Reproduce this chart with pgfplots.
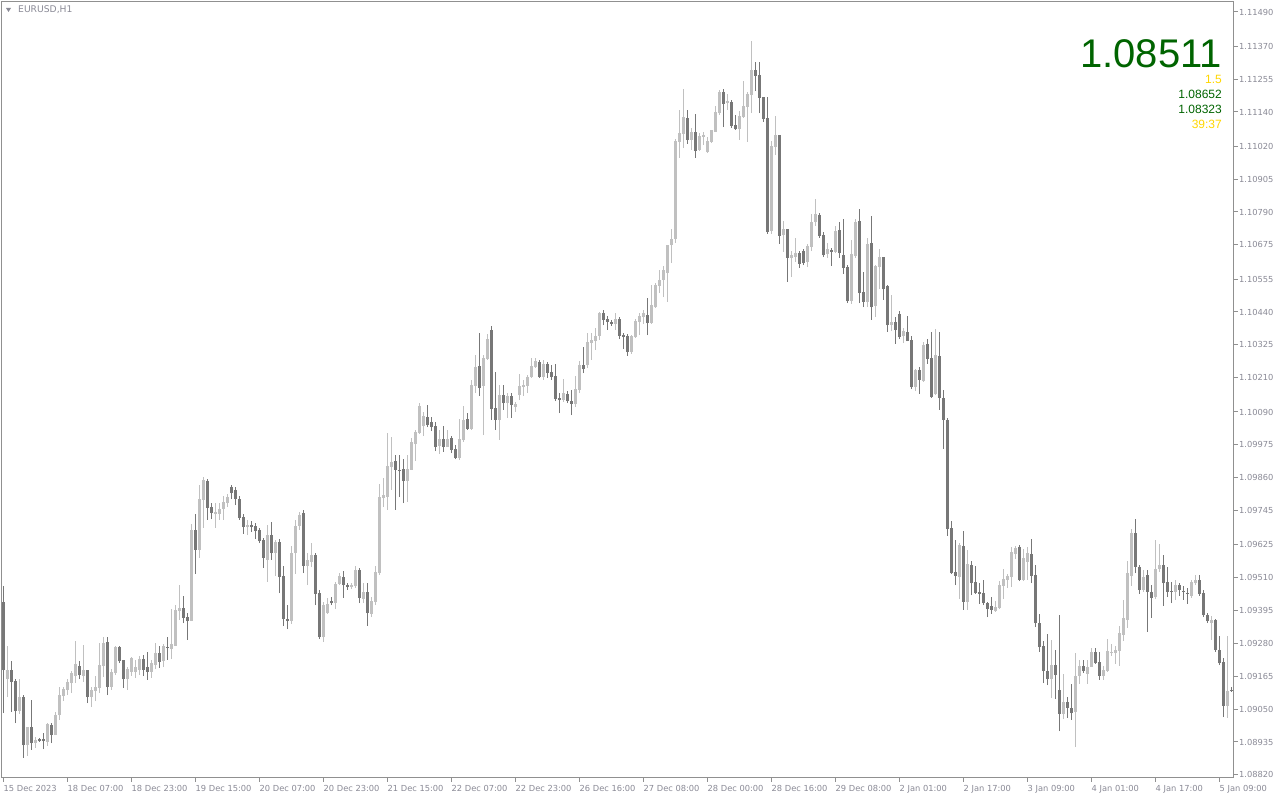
\documentclass[border=0pt]{standalone}
\usepackage{fontspec}
\setmainfont{DejaVu Sans}
\newfontfamily\arialfont{Liberation Sans}
\usepackage{pgfplots}
\usepackage{pgfplotstable}
\pgfplotsset{compat=1.18}
\definecolor{bull}{HTML}{C0C0C0}
\definecolor{bear}{HTML}{777777}
\definecolor{framec}{HTML}{909090}
\definecolor{lbl}{HTML}{8A8A96}
\definecolor{dgreen}{HTML}{006400}
\definecolor{goldc}{HTML}{FFD700}

\pgfplotstableread{
x o h l c
0 1.09425 1.09481 1.09036 1.09187
1 1.09155 1.09271 1.09092 1.09187
2 1.09187 1.09218 1.09040 1.09145
3 1.09148 1.09155 1.09001 1.09043
4 1.09043 1.09155 1.09033 1.09092
5 1.09092 1.09099 1.08879 1.08924
6 1.08924 1.08987 1.08886 1.08987
7 1.08987 1.09082 1.08907 1.08931
8 1.08931 1.08952 1.08914 1.08942
9 1.08945 1.08949 1.08935 1.08938
10 1.08945 1.08966 1.08910 1.08938
11 1.08935 1.09001 1.08921 1.08998
12 1.08994 1.09001 1.08931 1.08959
13 1.08959 1.09040 1.08959 1.09029
14 1.09029 1.09127 1.09012 1.09099
15 1.09096 1.09127 1.09078 1.09120
16 1.09117 1.09155 1.09099 1.09145
17 1.09141 1.09183 1.09106 1.09176
18 1.09166 1.09288 1.09141 1.09208
19 1.09201 1.09218 1.09155 1.09169
20 1.09166 1.09274 1.09145 1.09187
21 1.09187 1.09187 1.09071 1.09092
22 1.09092 1.09127 1.09057 1.09117
23 1.09113 1.09166 1.09078 1.09127
24 1.09124 1.09281 1.09106 1.09204
25 1.09201 1.09302 1.09162 1.09281
26 1.09285 1.09302 1.09099 1.09127
27 1.09127 1.09190 1.09117 1.09180
28 1.09176 1.09271 1.09169 1.09267
29 1.09267 1.09271 1.09211 1.09218
30 1.09222 1.09222 1.09124 1.09155
31 1.09155 1.09197 1.09117 1.09190
32 1.09180 1.09232 1.09166 1.09229
33 1.09180 1.09222 1.09159 1.09197
34 1.09187 1.09236 1.09169 1.09225
35 1.09225 1.09239 1.09166 1.09187
36 1.09197 1.09250 1.09152 1.09180
37 1.09180 1.09222 1.09159 1.09211
38 1.09204 1.09281 1.09190 1.09246
39 1.09246 1.09271 1.09194 1.09215
40 1.09218 1.09278 1.09197 1.09271
41 1.09267 1.09302 1.09222 1.09264
42 1.09260 1.09400 1.09225 1.09278
43 1.09271 1.09414 1.09271 1.09397
44 1.09393 1.09484 1.09362 1.09404
45 1.09404 1.09446 1.09351 1.09369
46 1.09372 1.09386 1.09292 1.09358
47 1.09358 1.09698 1.09358 1.09677
48 1.09677 1.09733 1.09523 1.09607
49 1.09607 1.09834 1.09579 1.09785
50 1.09782 1.09862 1.09684 1.09852
51 1.09848 1.09855 1.09712 1.09754
52 1.09757 1.09771 1.09715 1.09736
53 1.09733 1.09771 1.09684 1.09740
54 1.09733 1.09771 1.09712 1.09750
55 1.09750 1.09796 1.09712 1.09775
56 1.09771 1.09803 1.09757 1.09792
57 1.09827 1.09834 1.09785 1.09806
58 1.09817 1.09827 1.09764 1.09785
59 1.09785 1.09796 1.09712 1.09719
60 1.09722 1.09733 1.09663 1.09687
61 1.09687 1.09712 1.09659 1.09694
62 1.09694 1.09708 1.09670 1.09687
63 1.09691 1.09701 1.09645 1.09673
64 1.09677 1.09684 1.09631 1.09638
65 1.09642 1.09649 1.09544 1.09579
66 1.09572 1.09694 1.09495 1.09659
67 1.09659 1.09705 1.09572 1.09596
68 1.09596 1.09642 1.09516 1.09635
69 1.09635 1.09645 1.09456 1.09512
70 1.09516 1.09551 1.09341 1.09365
71 1.09365 1.09414 1.09330 1.09358
72 1.09358 1.09621 1.09348 1.09596
73 1.09596 1.09712 1.09523 1.09691
74 1.09691 1.09740 1.09677 1.09729
75 1.09736 1.09747 1.09526 1.09551
76 1.09551 1.09596 1.09484 1.09572
77 1.09565 1.09631 1.09547 1.09589
78 1.09589 1.09596 1.09414 1.09453
79 1.09456 1.09467 1.09295 1.09302
80 1.09302 1.09425 1.09285 1.09414
81 1.09386 1.09439 1.09383 1.09418
82 1.09428 1.09442 1.09414 1.09421
83 1.09421 1.09495 1.09400 1.09488
84 1.09488 1.09526 1.09484 1.09516
85 1.09512 1.09533 1.09439 1.09484
86 1.09484 1.09491 1.09467 1.09477
87 1.09477 1.09491 1.09470 1.09484
88 1.09481 1.09551 1.09474 1.09537
89 1.09537 1.09544 1.09421 1.09439
90 1.09435 1.09491 1.09421 1.09460
91 1.09460 1.09491 1.09341 1.09386
92 1.09383 1.09442 1.09372 1.09428
93 1.09425 1.09551 1.09414 1.09530
94 1.09526 1.09838 1.09519 1.09792
95 1.09789 1.09859 1.09757 1.09799
96 1.09792 1.10016 1.09747 1.09901
97 1.09897 1.10002 1.09817 1.09915
98 1.09918 1.09939 1.09747 1.09887
99 1.09887 1.09939 1.09792 1.09883
100 1.09890 1.09925 1.09771 1.09848
101 1.09848 1.09939 1.09775 1.09890
102 1.09887 1.09999 1.09887 1.09985
103 1.09978 1.10027 1.09918 1.10020
104 1.10016 1.10121 1.10013 1.10111
105 1.10041 1.10090 1.10006 1.10076
106 1.10072 1.10114 1.10037 1.10044
107 1.10055 1.10072 1.10023 1.10037
108 1.10041 1.10055 1.09953 1.09967
109 1.09971 1.10027 1.09943 1.09995
110 1.09995 1.10041 1.09950 1.09967
111 1.09967 1.10027 1.09967 1.09995
112 1.09999 1.10006 1.09946 1.09957
113 1.09960 1.09974 1.09925 1.09929
114 1.09929 1.10065 1.09922 1.09995
115 1.09992 1.10111 1.09985 1.10062
116 1.10065 1.10086 1.10027 1.10030
117 1.10030 1.10202 1.10027 1.10184
118 1.10181 1.10289 1.10156 1.10247
119 1.10251 1.10366 1.10146 1.10174
120 1.10181 1.10289 1.10009 1.10279
121 1.10275 1.10363 1.10272 1.10345
122 1.10377 1.10391 1.10062 1.10100
123 1.10104 1.10230 1.10027 1.10062
124 1.10062 1.10184 1.09992 1.10149
125 1.10149 1.10184 1.10097 1.10121
126 1.10121 1.10156 1.10069 1.10146
127 1.10146 1.10156 1.10069 1.10114
128 1.10107 1.10125 1.10090 1.10118
129 1.10149 1.10223 1.10132 1.10181
130 1.10177 1.10202 1.10146 1.10184
131 1.10181 1.10219 1.10156 1.10212
132 1.10212 1.10279 1.10209 1.10251
133 1.10247 1.10279 1.10244 1.10268
134 1.10265 1.10272 1.10209 1.10212
135 1.10212 1.10272 1.10202 1.10258
136 1.10258 1.10265 1.10209 1.10226
137 1.10230 1.10254 1.10202 1.10212
138 1.10216 1.10258 1.10128 1.10135
139 1.10139 1.10156 1.10086 1.10132
140 1.10132 1.10205 1.10125 1.10156
141 1.10153 1.10163 1.10121 1.10128
142 1.10128 1.10167 1.10079 1.10118
143 1.10118 1.10216 1.10107 1.10170
144 1.10167 1.10268 1.10156 1.10254
145 1.10254 1.10317 1.10226 1.10240
146 1.10254 1.10366 1.10244 1.10335
147 1.10331 1.10366 1.10272 1.10342
148 1.10338 1.10384 1.10307 1.10356
149 1.10356 1.10440 1.10342 1.10436
150 1.10436 1.10447 1.10394 1.10412
151 1.10415 1.10426 1.10377 1.10405
152 1.10405 1.10412 1.10391 1.10398
153 1.10398 1.10436 1.10377 1.10415
154 1.10415 1.10422 1.10345 1.10356
155 1.10359 1.10366 1.10310 1.10352
156 1.10356 1.10363 1.10286 1.10300
157 1.10300 1.10359 1.10293 1.10356
158 1.10352 1.10415 1.10349 1.10408
159 1.10405 1.10436 1.10359 1.10426
160 1.10422 1.10447 1.10398 1.10436
161 1.10429 1.10489 1.10359 1.10401
162 1.10401 1.10534 1.10398 1.10464
163 1.10457 1.10541 1.10454 1.10534
164 1.10531 1.10587 1.10506 1.10552
165 1.10552 1.10601 1.10492 1.10587
166 1.10576 1.10674 1.10475 1.10674
167 1.10674 1.10730 1.10611 1.10695
168 1.10695 1.11045 1.10681 1.11038
169 1.11035 1.11147 1.10979 1.11066
170 1.11063 1.11220 1.11014 1.11122
171 1.11119 1.11147 1.11028 1.11042
172 1.11042 1.11084 1.11007 1.11070
173 1.11070 1.11133 1.10979 1.11003
174 1.11007 1.11066 1.11003 1.11056
175 1.11052 1.11070 1.11024 1.11059
176 1.11000 1.11052 1.10996 1.11038
177 1.11035 1.11077 1.11031 1.11077
178 1.11070 1.11161 1.11070 1.11140
179 1.11136 1.11217 1.11129 1.11210
180 1.11210 1.11220 1.11087 1.11168
181 1.11171 1.11203 1.11147 1.11178
182 1.11175 1.11182 1.11084 1.11091
183 1.11094 1.11129 1.11077 1.11080
184 1.11080 1.11143 1.11042 1.11126
185 1.11122 1.11248 1.11119 1.11161
186 1.11157 1.11210 1.11035 1.11203
187 1.11199 1.11388 1.11136 1.11287
188 1.11287 1.11315 1.11213 1.11266
189 1.11269 1.11315 1.11136 1.11189
190 1.11192 1.11192 1.11105 1.11115
191 1.11119 1.11192 1.10713 1.10720
192 1.10723 1.11038 1.10713 1.11021
193 1.11017 1.11126 1.10989 1.11059
194 1.11059 1.11059 1.10678 1.10706
195 1.10709 1.10758 1.10650 1.10730
196 1.10730 1.10730 1.10545 1.10629
197 1.10629 1.10653 1.10562 1.10639
198 1.10632 1.10699 1.10615 1.10646
199 1.10646 1.10653 1.10594 1.10608
200 1.10653 1.10660 1.10604 1.10611
201 1.10615 1.10678 1.10597 1.10671
202 1.10667 1.10783 1.10653 1.10755
203 1.10755 1.10835 1.10741 1.10783
204 1.10779 1.10786 1.10699 1.10706
205 1.10709 1.10720 1.10632 1.10639
206 1.10643 1.10681 1.10629 1.10660
207 1.10657 1.10664 1.10601 1.10650
208 1.10650 1.10741 1.10646 1.10723
209 1.10727 1.10755 1.10629 1.10646
210 1.10639 1.10765 1.10573 1.10594
211 1.10597 1.10604 1.10471 1.10478
212 1.10478 1.10692 1.10468 1.10643
213 1.10636 1.10765 1.10629 1.10755
214 1.10758 1.10800 1.10471 1.10506
215 1.10510 1.10580 1.10457 1.10475
216 1.10475 1.10699 1.10457 1.10678
217 1.10681 1.10776 1.10412 1.10457
218 1.10461 1.10604 1.10422 1.10601
219 1.10597 1.10660 1.10520 1.10632
220 1.10632 1.10632 1.10482 1.10520
221 1.10531 1.10534 1.10370 1.10394
222 1.10394 1.10499 1.10373 1.10405
223 1.10405 1.10422 1.10328 1.10377
224 1.10433 1.10443 1.10345 1.10352
225 1.10356 1.10384 1.10331 1.10373
226 1.10370 1.10426 1.10338 1.10338
227 1.10342 1.10356 1.10170 1.10177
228 1.10177 1.10240 1.10163 1.10237
229 1.10237 1.10247 1.10153 1.10202
230 1.10198 1.10335 1.10195 1.10324
231 1.10328 1.10345 1.10258 1.10275
232 1.10279 1.10370 1.10139 1.10142
233 1.10153 1.10380 1.10149 1.10289
234 1.10286 1.10370 1.10097 1.10139
235 1.10139 1.10167 1.09960 1.10062
236 1.10062 1.10069 1.09656 1.09680
237 1.09684 1.09708 1.09523 1.09526
238 1.09530 1.09642 1.09484 1.09516
239 1.09512 1.09631 1.09435 1.09624
240 1.09621 1.09673 1.09397 1.09425
241 1.09425 1.09607 1.09397 1.09558
242 1.09554 1.09568 1.09449 1.09491
243 1.09495 1.09551 1.09453 1.09456
244 1.09460 1.09491 1.09418 1.09453
245 1.09456 1.09502 1.09414 1.09421
246 1.09421 1.09425 1.09372 1.09400
247 1.09411 1.09442 1.09383 1.09397
248 1.09393 1.09428 1.09390 1.09407
249 1.09404 1.09498 1.09400 1.09484
250 1.09481 1.09540 1.09435 1.09505
251 1.09502 1.09523 1.09474 1.09516
252 1.09512 1.09617 1.09477 1.09600
253 1.09593 1.09621 1.09575 1.09614
254 1.09617 1.09624 1.09498 1.09502
255 1.09502 1.09610 1.09498 1.09579
256 1.09565 1.09617 1.09502 1.09596
257 1.09593 1.09645 1.09491 1.09516
258 1.09519 1.09554 1.09337 1.09351
259 1.09351 1.09383 1.09250 1.09267
260 1.09271 1.09288 1.09141 1.09183
261 1.09183 1.09313 1.09134 1.09155
262 1.09155 1.09292 1.09089 1.09204
263 1.09204 1.09257 1.09085 1.09169
264 1.09117 1.09379 1.08973 1.09033
265 1.09033 1.09173 1.09015 1.09075
266 1.09075 1.09092 1.09019 1.09054
267 1.09054 1.09138 1.09012 1.09036
268 1.09040 1.09246 1.08917 1.09166
269 1.09166 1.09222 1.09138 1.09201
270 1.09201 1.09222 1.09176 1.09183
271 1.09173 1.09222 1.09138 1.09197
272 1.09197 1.09264 1.09197 1.09250
273 1.09250 1.09264 1.09208 1.09211
274 1.09215 1.09250 1.09152 1.09166
275 1.09166 1.09201 1.09152 1.09187
276 1.09183 1.09295 1.09180 1.09254
277 1.09246 1.09278 1.09236 1.09250
278 1.09246 1.09271 1.09208 1.09257
279 1.09254 1.09341 1.09201 1.09317
280 1.09310 1.09432 1.09288 1.09369
281 1.09362 1.09568 1.09334 1.09526
282 1.09516 1.09681 1.09481 1.09667
283 1.09667 1.09715 1.09526 1.09548
284 1.09548 1.09554 1.09453 1.09467
285 1.09467 1.09537 1.09460 1.09512
286 1.09519 1.09537 1.09320 1.09460
287 1.09460 1.09484 1.09369 1.09439
288 1.09442 1.09642 1.09435 1.09540
289 1.09540 1.09628 1.09530 1.09554
290 1.09554 1.09589 1.09411 1.09491
291 1.09495 1.09548 1.09442 1.09460
292 1.09463 1.09495 1.09421 1.09460
293 1.09460 1.09502 1.09432 1.09484
294 1.09484 1.09491 1.09446 1.09467
295 1.09463 1.09481 1.09432 1.09460
296 1.09456 1.09474 1.09418 1.09453
297 1.09446 1.09502 1.09439 1.09495
298 1.09491 1.09519 1.09484 1.09502
299 1.09502 1.09519 1.09446 1.09453
300 1.09456 1.09467 1.09372 1.09379
301 1.09379 1.09386 1.09351 1.09358
302 1.09351 1.09376 1.09292 1.09362
303 1.09362 1.09365 1.09250 1.09257
304 1.09257 1.09306 1.09204 1.09211
305 1.09215 1.09229 1.09022 1.09061
306 1.09061 1.09306 1.09019 1.09113
307 1.09117 1.09127 1.09110 1.09113
}\candles

\begin{document}
\begin{tikzpicture}
\useasboundingbox (0pt,0pt) rectangle (1280pt,800pt);
\fill[white] (0pt,0pt) rectangle (1280pt,800pt);
\begin{axis}[
  at={(2pt,22pt)}, anchor=south west, scale only axis,
  width=1232pt, height=776pt,
  xmin=-0.375, xmax=307.625, ymin=1.08809, ymax=1.11525,
  axis line style={draw=framec, line width=1pt},
  tick style={draw=framec, line width=1pt},
  tick align=outside, major tick length=4pt,
  xtick pos=bottom, ytick pos=right, yticklabel pos=right,
  xtick={0,16,...,304},
  xticklabels={15 Dec 2023,18 Dec 07:00,18 Dec 23:00,19 Dec 15:00,20 Dec 07:00,20 Dec 23:00,21 Dec 15:00,22 Dec 07:00,22 Dec 23:00,26 Dec 16:00,27 Dec 08:00,28 Dec 00:00,28 Dec 16:00,29 Dec 08:00,2 Jan 01:00,2 Jan 17:00,3 Jan 09:00,4 Jan 01:00,4 Jan 17:00,5 Jan 09:00},
  ytick={1.0882,1.08935,1.0905,1.09165,1.0928,1.09395,1.0951,1.09625,1.09745,1.0986,1.09975,1.1009,1.1021,1.10325,1.1044,1.10555,1.10675,1.1079,1.10905,1.1102,1.1114,1.11255,1.1137,1.1149},
  yticklabels={1.08820,1.08935,1.09050,1.09165,1.09280,1.09395,1.09510,1.09625,1.09745,1.09860,1.09975,1.10090,1.10210,1.10325,1.10440,1.10555,1.10675,1.10790,1.10905,1.11020,1.11140,1.11255,1.11370,1.11490},
  scaled y ticks=false, scaled x ticks=false,
  x tick label style={anchor=north west, font=\fontsize{8.3}{10}\selectfont, text=lbl, inner sep=0pt, xshift=0pt, yshift=-3pt},
  y tick label style={anchor=west, font=\fontsize{8.3}{10}\selectfont, text=lbl, inner sep=0pt, xshift=1pt},
]
\addplot[draw=none, mark=none, restrict expr to domain={\thisrow{c}-\thisrow{o}}{0:1},
  error bars/.cd, y dir=plus, y explicit, error mark=none,
  error bar style={draw=bull, line width=1pt}]
  table[x=x, y=l, y error plus expr=\thisrow{h}-\thisrow{l}] {\candles};
\addplot[draw=none, mark=none, restrict expr to domain={\thisrow{c}-\thisrow{o}}{-1:0},
  error bars/.cd, y dir=plus, y explicit, error mark=none,
  error bar style={draw=bear, line width=1pt}]
  table[x=x, y=l, y error plus expr=\thisrow{h}-\thisrow{l}] {\candles};
\addplot[draw=none, mark=none, restrict expr to domain={\thisrow{c}-\thisrow{o}}{0:1},
  error bars/.cd, y dir=plus, y explicit, error mark=none,
  error bar style={draw=bull, line width=3pt}]
  table[x=x, y=o, y error plus expr=\thisrow{c}-\thisrow{o}] {\candles};
\addplot[draw=none, mark=none, restrict expr to domain={\thisrow{c}-\thisrow{o}}{-1:0},
  error bars/.cd, y dir=plus, y explicit, error mark=none,
  error bar style={draw=bear, line width=3pt}]
  table[x=x, y=c, y error plus expr=\thisrow{o}-\thisrow{c}] {\candles};
\end{axis}
\fill[lbl] (6pt,792pt) -- (11pt,792pt) -- (8.5pt,788pt) -- cycle;
\node[anchor=base west, inner sep=0pt, text=lbl, font=\fontsize{9.2}{10}\selectfont] at (18pt,787pt) {EURUSD,H1};
\node[anchor=base east, inner sep=0pt, text depth=0pt, text height=29pt, text=dgreen, font=\arialfont\fontsize{40}{40}\selectfont] at (1222pt,732pt) {1.08511};
\node[anchor=base east, inner sep=0pt, text depth=0pt, text height=8.6pt, text=goldc, font=\arialfont\fontsize{12}{12}\selectfont] at (1222pt,716pt) {1.5};
\node[anchor=base east, inner sep=0pt, text depth=0pt, text height=8.6pt, text=dgreen, font=\arialfont\fontsize{12}{12}\selectfont] at (1222pt,701pt) {1.08652};
\node[anchor=base east, inner sep=0pt, text depth=0pt, text height=8.6pt, text=dgreen, font=\arialfont\fontsize{12}{12}\selectfont] at (1222pt,686pt) {1.08323};
\node[anchor=base east, inner sep=0pt, text depth=0pt, text height=8.6pt, text=goldc, font=\arialfont\fontsize{12}{12}\selectfont] at (1222pt,671pt) {39:37};
\end{tikzpicture}
\end{document}
